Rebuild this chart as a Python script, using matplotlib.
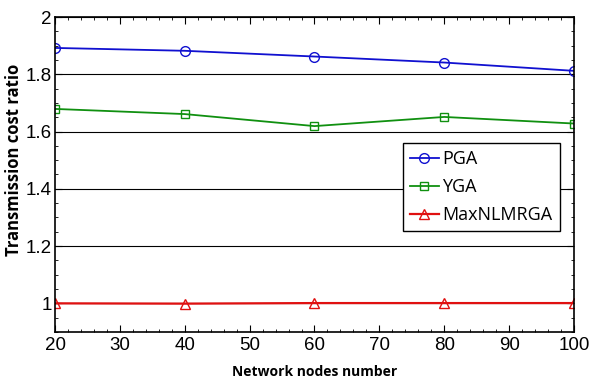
import matplotlib.pyplot as plt
from matplotlib.ticker import MultipleLocator

nodes = [20, 40, 60, 80, 100]
pga = [1.892, 1.882, 1.862, 1.841, 1.812]
yga = [1.679, 1.661, 1.619, 1.651, 1.628]
maxnlmrga = [1.0, 0.999, 1.001, 1.001, 1.001]

fig = plt.figure(figsize=(5.89, 3.83), dpi=100)
ax = fig.add_axes([0.0934, 0.1332, 0.8811, 0.8224])

ax.plot(nodes, pga, color="#1010d0", marker="o", markersize=7, markerfacecolor="none",
        linewidth=1.3, label="PGA")
ax.plot(nodes, yga, color="#109010", marker="s", markersize=6, markerfacecolor="none",
        linewidth=1.3, label="YGA")
ax.plot(nodes, maxnlmrga, color="#e01010", marker="^", markersize=7, markerfacecolor="none",
        linewidth=1.6, label="MaxNLMRGA")

ax.set_xlim(20, 100)
ax.set_ylim(0.9, 2.0)
ax.set_yticks([1, 1.2, 1.4, 1.6, 1.8, 2])
ax.set_yticklabels(["1", "1.2", "1.4", "1.6", "1.8", "2"])
ax.xaxis.set_minor_locator(MultipleLocator(2))
ax.yaxis.set_minor_locator(MultipleLocator(0.05))
ax.tick_params(which="both", direction="in", top=True, right=True)
ax.tick_params(which="major", length=5, labelsize=13.5)
ax.tick_params(axis="y", which="major", pad=2.5)
ax.tick_params(which="minor", length=2.5)
ax.grid(axis="y", which="major", color="black", linewidth=0.8)
for lab in ax.get_xticklabels() + ax.get_yticklabels():
    lab.set_fontfamily(["Liberation Sans Narrow", "Liberation Sans"])
for s in ax.spines.values():
    s.set_linewidth(1.2)

ax.set_xlabel("Network nodes number", fontsize=10, fontweight="bold", family="Open Sans", labelpad=8)
ax.set_ylabel("Transmission cost ratio", fontsize=12, fontweight="bold", family="Open Sans")
ax.yaxis.set_label_coords(-0.062, 0.546)

leg = ax.legend(loc="upper left", bbox_to_anchor=(0.67, 0.6), fancybox=False, framealpha=1,
                edgecolor="black", handlelength=1.6, handletextpad=0.2, borderpad=0.4,
                borderaxespad=0, labelspacing=0.55, prop={"family": "Open Sans", "size": 13})
leg.get_frame().set_linewidth(1.0)

fig.savefig("out.png", dpi=100)
